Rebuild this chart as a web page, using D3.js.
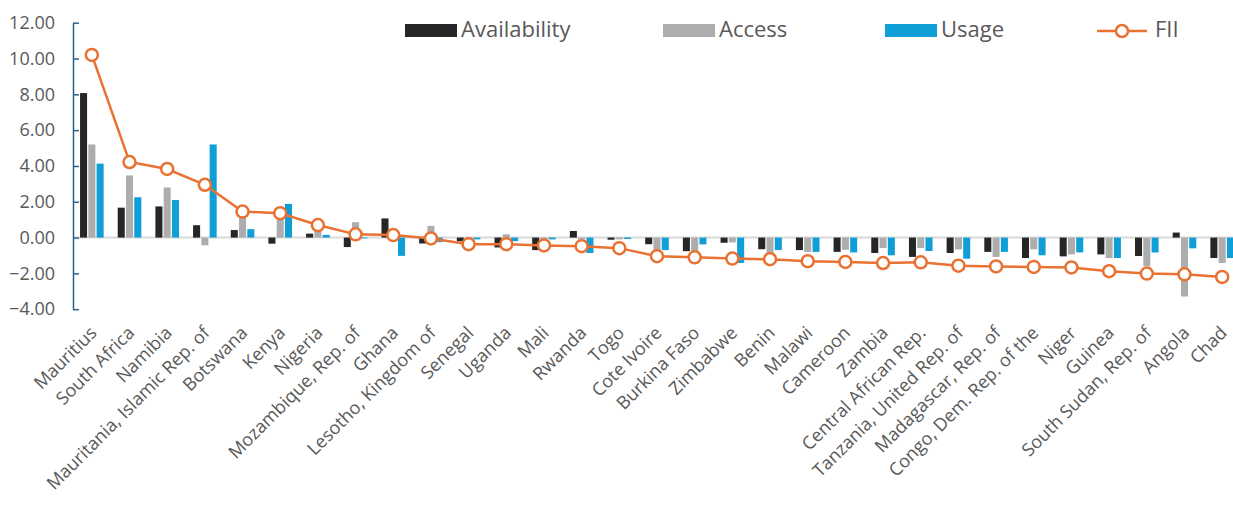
<!DOCTYPE html>
<html><head><meta charset="utf-8">
<script src="https://cdn.jsdelivr.net/npm/d3@7"></script>
<style>body{margin:0;background:#fff}svg{display:block;font-family:"Open Sans",sans-serif}</style>
</head><body><svg id="c" width="1233" height="508"></svg>
<script>
const categories=["Mauritius","South Africa","Namibia","Mauritania, Islamic Rep. of","Botswana","Kenya","Nigeria","Mozambique, Rep. of","Ghana","Lesotho, Kingdom of","Senegal","Uganda","Mali","Rwanda","Togo","Cote Ivoire","Burkina Faso","Zimbabwe","Benin","Malawi","Cameroon","Zambia","Central African Rep.","Tanzania, United Rep. of","Madagascar, Rep. of","Congo, Dem. Rep. of the","Niger","Guinea","South Sudan, Rep. of","Angola","Chad"];
const availability=[8.07,1.67,1.74,0.69,0.42,-0.34,0.22,-0.53,1.07,-0.33,-0.21,-0.55,-0.7,0.37,-0.12,-0.37,-0.76,-0.29,-0.65,-0.7,-0.8,-0.86,-1.08,-0.86,-0.8,-1.14,-1.05,-0.94,-1.03,0.28,-1.14];
const access=[5.2,3.47,2.8,-0.43,1.3,1.2,0.5,0.86,0.1,0.65,-0.1,0.18,-0.15,-0.1,-0.1,-0.7,-0.76,-0.27,-1.08,-0.8,-0.68,-0.58,-0.58,-0.66,-1.08,-0.66,-0.94,-1.14,-1.59,-3.29,-1.42];
const usage=[4.13,2.25,2.1,5.2,0.47,1.88,0.15,-0.05,-1.02,-0.25,-0.1,-0.2,-0.1,-0.86,-0.08,-0.7,-0.38,-1.42,-0.7,-0.8,-0.83,-0.99,-0.75,-1.18,-0.8,-0.99,-0.83,-1.14,-0.83,-0.6,-1.14];
const fii=[10.2,4.22,3.83,2.95,1.45,1.36,0.7,0.18,0.14,-0.05,-0.37,-0.37,-0.44,-0.48,-0.59,-1.04,-1.1,-1.17,-1.21,-1.32,-1.36,-1.42,-1.38,-1.57,-1.61,-1.64,-1.67,-1.88,-2.01,-2.05,-2.2];
const yTicks=[12,10,8,6,4,2,0,-2,-4];
const barSeries=["Availability","Access","Usage"];
const colors={Availability:"#262626",Access:"#ADADAD",Usage:"#0F9ED5",FII:"#E97132"};
const barData={Availability:availability,Access:access,Usage:usage};

const svg=d3.select("#c");
const x=d3.scaleBand().domain(categories).range([73,1241]);
const y=d3.scaleLinear().domain([-4,12]).range([309.2,22.7]);
const xs=d3.scaleBand().domain(barSeries).range([-11.8,11.8]).paddingInner(0.15);
const textCol="#595959";

// zero line
svg.append("line").attr("x1",73).attr("x2",1241).attr("y1",y(0)).attr("y2",y(0))
  .attr("stroke","#D9D9D9").attr("stroke-width",2);

// bars
barSeries.forEach(s=>{
  svg.append("g").selectAll("rect").data(barData[s]).join("rect")
    .attr("x",(d,i)=>x(categories[i])+x.bandwidth()/2+xs(s))
    .attr("width",xs.bandwidth())
    .attr("y",d=>y(Math.max(0,d)))
    .attr("height",d=>Math.abs(y(d)-y(0)))
    .attr("fill",colors[s]);
});

// y axis
const yAxis=d3.axisLeft(y).tickValues(yTicks).tickFormat(d3.format(".2f")).tickSize(-6).tickPadding(24).tickSizeOuter(0);
const ga=svg.append("g").attr("transform","translate(73,0)").call(yAxis);
ga.select(".domain").attr("stroke","#27648C").attr("stroke-width",1.5);
ga.selectAll(".tick line").attr("stroke","#27648C").attr("stroke-width",1.5);
ga.selectAll(".tick text").attr("fill",textCol).attr("font-size",18).attr("font-family",'"Open Sans",sans-serif').attr("text-anchor","end").attr("x",-18);

// x labels
const gx=svg.append("g");
gx.selectAll("text").data(categories).join("text")
  .attr("transform",d=>`translate(${x(d)+x.bandwidth()/2+6},334) rotate(-45)`)
  .attr("text-anchor","end").attr("fill",textCol).attr("font-size",18)
  .text(d=>d);

// FII line
const line=d3.line().x((d,i)=>x(categories[i])+x.bandwidth()/2).y(d=>y(d));
svg.append("path").datum(fii).attr("d",line).attr("fill","none").attr("stroke",colors.FII).attr("stroke-width",2.5);
svg.append("g").selectAll("circle").data(fii).join("circle")
  .attr("cx",(d,i)=>x(categories[i])+x.bandwidth()/2).attr("cy",d=>y(d)).attr("r",6)
  .attr("fill","#fff").attr("stroke",colors.FII).attr("stroke-width",2.5);

// legend
const leg=[{n:"Availability",x:405},{n:"Access",x:663},{n:"Usage",x:885}];
leg.forEach(l=>{
  svg.append("rect").attr("x",l.x).attr("y",24).attr("width",52).attr("height",13).attr("fill",colors[l.n]);
  svg.append("text").attr("x",l.x+56).attr("y",37).attr("fill",textCol).attr("font-size",22).text(l.n);
});
svg.append("line").attr("x1",1097).attr("x2",1147).attr("y1",31).attr("y2",31).attr("stroke",colors.FII).attr("stroke-width",2.5);
svg.append("circle").attr("cx",1122).attr("cy",31).attr("r",6).attr("fill","#fff").attr("stroke",colors.FII).attr("stroke-width",2.5);
svg.append("text").attr("x",1155).attr("y",37).attr("fill",textCol).attr("font-size",22).text("FII");
</script></body></html>
